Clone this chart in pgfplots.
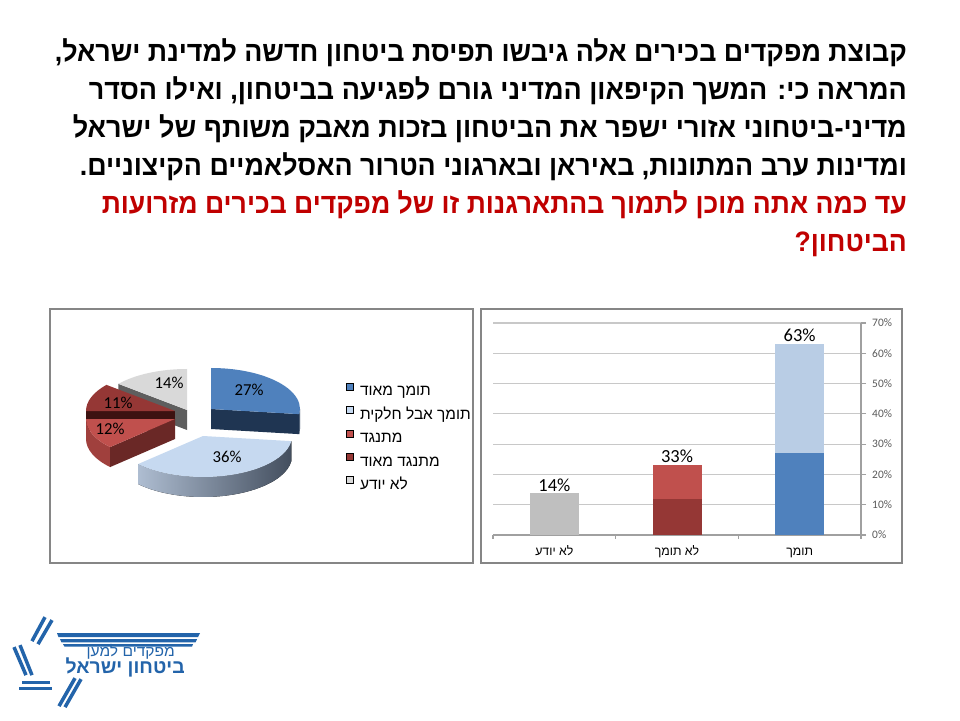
\documentclass[border=0pt]{standalone}
\usepackage{pgfplots}
\pgfplotsset{compat=1.18}
\usepackage{graphicx}
\usetikzlibrary{calc}
\usepackage{fontspec}
\setmainfont{Liberation Sans}
\newfontfamily\hebfont[Script=Hebrew]{Liberation Sans}
\newfontfamily\carlito{Carlito}
\TeXXeTstate=1

\definecolor{cblue}{HTML}{4F81BD}
\definecolor{cblueside}{HTML}{1F3552}
\definecolor{clblue}{HTML}{C6D9F0}
\definecolor{clbsideL}{HTML}{AEBDD1}
\definecolor{clbsideR}{HTML}{434E5E}
\definecolor{cred}{HTML}{C0504D}
\definecolor{credside}{HTML}{A0403D}
\definecolor{credface}{HTML}{6A2826}
\definecolor{cdred}{HTML}{953735}
\definecolor{cdredside}{HTML}{3D1211}
\definecolor{cgray}{HTML}{D9D9D9}
\definecolor{cgrayside}{HTML}{5E5E5E}
\definecolor{cgraybar}{HTML}{BFBFBF}
\definecolor{clbluebar}{HTML}{B9CDE5}
\definecolor{caxis}{HTML}{A0A0A0}
\definecolor{cgrid}{HTML}{C8C8C8}
\definecolor{ctick}{HTML}{595959}
\definecolor{cbox}{HTML}{868686}
\definecolor{ctitlered}{HTML}{C00000}
\definecolor{clogo}{HTML}{2364AA}

% pie data (percent) and cumulative angles (clockwise from 12 o'clock)
\def\vA{27}\def\vB{36}\def\vC{12}\def\vD{11}\def\vE{14}
\pgfmathsetmacro\tA{90}
\pgfmathsetmacro\tB{\tA-3.6*\vA}
\pgfmathsetmacro\tC{\tB-3.6*\vB}
\pgfmathsetmacro\tD{\tC-3.6*\vC}
\pgfmathsetmacro\tE{\tD-3.6*\vD}
\pgfmathsetmacro\tF{\tE-3.6*\vE}

\newcommand\pietop[5]{%
  \fill[#5] (axis cs:#1,-#2) -- ($(axis cs:#1,-#2)+(#3:1.78cm and 0.82cm)$) arc[start angle=#3, end angle=#4, x radius=1.78cm, y radius=0.82cm] -- cycle;}
\newcommand\pieside[5]{%
  \fill[#5] ($(axis cs:#1,-#2)+(#3:1.78cm and 0.82cm)$) arc[start angle=#3, end angle=#4, x radius=1.78cm, y radius=0.82cm] -- ++(-90:0.40cm) arc[start angle=#4, end angle=#3, x radius=1.78cm, y radius=0.82cm] -- cycle;}
\newcommand\pieface[4]{%
  \fill[#4] (axis cs:#1,-#2) -- ($(axis cs:#1,-#2)+(#3:1.78cm and 0.82cm)$) -- ++(-90:0.40cm) -- ($(axis cs:#1,-#2)+(-90:0.40cm)$) -- cycle;}

\newsavebox\tbox
% #1 right x (px), #2 baseline y (px), #3 width (px), #4 font, #5 color, #6 text
\newcommand\fitline[6]{%
  \node[anchor=base east, inner sep=0pt, text=#5] at (#1,#2) {%
    \sbox\tbox{#4\beginR #6\endR}%
    \pgfmathsetmacro\sx{#3*0.569055/\wd\tbox}%
    \xdef\lastsx{\sx}%
    \scalebox{\sx}[1]{\usebox\tbox}};}
\newcommand\scaledline[6]{%
  \node[anchor=base east, inner sep=0pt, text=#5] at (#1,#2) {%
    \sbox\tbox{#4\beginR #6\endR}%
    \scalebox{#3}[1]{\usebox\tbox}};}

\newcommand\tfont{\hebfont\bfseries\fontsize{16}{19}\selectfont}
\newcommand\lgap{\hspace*{0.12cm}}

\begin{document}
\begin{tikzpicture}
\fill[white] (0,0) rectangle (19.2,14.4);
\path[use as bounding box] (0,0) rectangle (19.2,14.4);

\begin{scope}[x=0.02cm, y=-0.02cm, shift={(0cm,14.4cm)}]
  % title
  \fitline{907}{61}{852}{\tfont}{black}{קבוצת מפקדים בכירים אלה גיבשו תפיסת ביטחון חדשה למדינת ישראל,}
  \fitline{907}{99}{818}{\tfont}{black}{המראה כי: המשך הקיפאון המדיני גורם לפגיעה בביטחון, ואילו הסדר}
  \fitline{907}{137}{834}{\tfont}{black}{מדיני-ביטחוני אזורי ישפר את הביטחון בזכות מאבק משותף של ישראל}
  \fitline{907}{175}{827}{\tfont}{black}{ומדינות ערב המתונות, באיראן ובארגוני הטרור האסלאמיים הקיצוניים.}
  \fitline{907}{213}{805}{\tfont}{ctitlered}{עד כמה אתה מוכן לתמוך בהתארגנות זו של מפקדים בכירים מזרועות}
  \scaledline{907}{251}{\lastsx}{\tfont}{ctitlered}{הביטחון?}
  % chart frames
  \draw[cbox, line width=0.8pt] (50,309) rectangle (473,563);
  \draw[cbox, line width=0.8pt] (481,309) rectangle (902,563);
  % logo
  \fill[clogo] (57,633) -- (200,633) -- (198,637) -- (58.5,637) -- cycle;
  \fill[clogo] (60,639) -- (197,639) -- (195.5,642.3) -- (61.5,642.3) -- cycle;
  \fill[clogo] (63,644) -- (193,644) -- (192,646.5) -- (64.5,646.5) -- cycle;
  \draw[clogo, line width=2pt] (45,617) -- (32,641);
  \draw[clogo, line width=2pt] (52,620) -- (38,644);
  \draw[clogo, line width=2pt] (14,647) -- (26,675);
  \draw[clogo, line width=2pt] (20,645) -- (32,675);
  \draw[clogo, line width=1.8pt] (22,682) -- (50,682);
  \draw[clogo, line width=1.8pt] (19,688.5) -- (52,688.5);
  \draw[clogo, line width=2pt] (75,678) -- (59,706);
  \draw[clogo, line width=2pt] (81,679) -- (65,707);
  \fitline{175}{656}{88}{\hebfont\fontsize{8.5}{9}\selectfont}{clogo}{מפקדים למען}
  \fitline{185}{673}{119}{\hebfont\bfseries\fontsize{11}{12}\selectfont}{clogo}{ביטחון ישראל}
\end{scope}

% ---------------- pie chart ----------------
\begin{axis}[
  at={(1.00cm,3.14cm)}, anchor=south west,
  scale only axis, width=8.46cm, height=5.08cm,
  xmin=50, xmax=473, ymin=-563, ymax=-309,
  hide axis, clip=false,
  legend style={draw=none, fill=none, at={(axis cs:346,-382.5)}, anchor=north west,
    inner sep=0pt, font=\hebfont\fontsize{8.8}{10.5}\selectfont,
    row sep=0.156cm, column sep=0cm,
    nodes={inner sep=0pt, text height=0.25cm, text depth=0.05cm}},
  legend cell align=left,
  legend image code/.code={\fill[#1] (0cm,0.015cm) rectangle (0.14cm,0.155cm);},
]
  \addlegendimage{fill=cblue}
  \addlegendentry{\lgap\beginR תומך מאוד\endR}
  \addlegendimage{fill=clblue}
  \addlegendentry{\lgap\beginR תומך אבל חלקית\endR}
  \addlegendimage{fill=cred}
  \addlegendentry{\lgap\beginR מתנגד\endR}
  \addlegendimage{fill=cdred}
  \addlegendentry{\lgap\beginR מתנגד מאוד\endR}
  \addlegendimage{fill=cgray}
  \addlegendentry{\lgap\beginR לא יודע\endR}
  % gray 14%
  \pieface{187}{410}{\tE}{cgrayside}
  \pietop{187}{410}{\tF}{\tE}{cgray}
  % dark red 11%
  \pieface{175}{411}{\tD}{cdredside}
  \pietop{175}{411}{\tE}{\tD}{cdred}
  % red 12%
  \pieside{175}{419}{\tD}{\tC}{credside}
  \pieface{175}{419}{\tC}{credface}
  \pietop{175}{419}{\tD}{\tC}{cred}
  % blue 27%
  \pieface{211}{409}{\tB}{cblueside}
  \pieside{211}{409}{\tB}{0}{cblueside}
  \pietop{211}{409}{\tB}{\tA}{cblue}
  % light blue 36%
  \pieside{203}{436}{\tC}{\tB}{left color=clbsideL, right color=clbsideR}
  \pietop{203}{436}{\tC}{\tB}{clblue}
  % labels
  \node[font=\carlito\fontsize{9.5}{10}\selectfont] at (axis cs:249,-390) {27\%};
  \node[font=\carlito\fontsize{9.5}{10}\selectfont] at (axis cs:227,-457) {36\%};
  \node[font=\carlito\fontsize{9.5}{10}\selectfont] at (axis cs:110,-429) {12\%};
  \node[font=\carlito\fontsize{9.5}{10}\selectfont] at (axis cs:118,-403) {11\%};
  \node[font=\carlito\fontsize{9.5}{10}\selectfont] at (axis cs:169,-383) {14\%};
\end{axis}

% ---------------- bar chart ----------------
\begin{axis}[
  at={(9.86cm,3.70cm)}, anchor=south west,
  scale only axis, width=7.36cm, height=4.24cm,
  xmin=-0.5, xmax=2.5, ymin=0, ymax=70,
  axis x line*=bottom, axis y line*=right,
  axis line style={draw=caxis, line width=0.6pt},
  ybar stacked, bar width=0.98cm,
  ytick={0,10,...,70},
  yticklabel={\pgfmathprintnumber{\tick}\%},
  /pgf/number format/assume math mode=true,
  yticklabel style={font=\carlito\fontsize{6.5}{7}\selectfont, text=ctick},
  ymajorgrids, major grid style={draw=cgrid, line width=0.6pt},
  xtick={0,1,2},
  xticklabels={{\beginR לא יודע\endR},{\beginR לא תומך\endR},{\beginR תומך\endR}},
  xticklabel style={font=\hebfont\fontsize{7}{8}\selectfont, text=black, text height=0.17cm, text depth=0.05cm, anchor=north, yshift=-0.02cm},
  minor xtick={-0.5,0.5,1.5,2.5},
  tick align=outside,
  major tick length=0.1cm, minor tick length=0.07cm,
  tick style={draw=caxis, line width=0.6pt},
  major x tick style={draw=none},
  clip=false,
]
  \addplot[fill=cgraybar, draw=none] coordinates {(0,14) (1,0) (2,0)};
  \addplot[fill=cdred, draw=none] coordinates {(0,0) (1,12) (2,0)};
  \addplot[fill=cblue, draw=none] coordinates {(0,0) (1,0) (2,27)};
  \addplot[fill=cred, draw=none] coordinates {(0,0) (1,11) (2,0)};
  \addplot[fill=clbluebar, draw=none] coordinates {(0,0) (1,0) (2,36)};
  \node[anchor=south, inner sep=0.5pt, font=\carlito\fontsize{10.5}{12}\selectfont] at (axis cs:0,14) {14\%};
  \node[anchor=south, inner sep=1.2pt, font=\carlito\fontsize{10.5}{12}\selectfont] at (axis cs:1,23) {33\%};
  \node[anchor=south, inner sep=1.2pt, font=\carlito\fontsize{10.5}{12}\selectfont] at (axis cs:2,63) {63\%};
\end{axis}
\end{tikzpicture}
\end{document}
